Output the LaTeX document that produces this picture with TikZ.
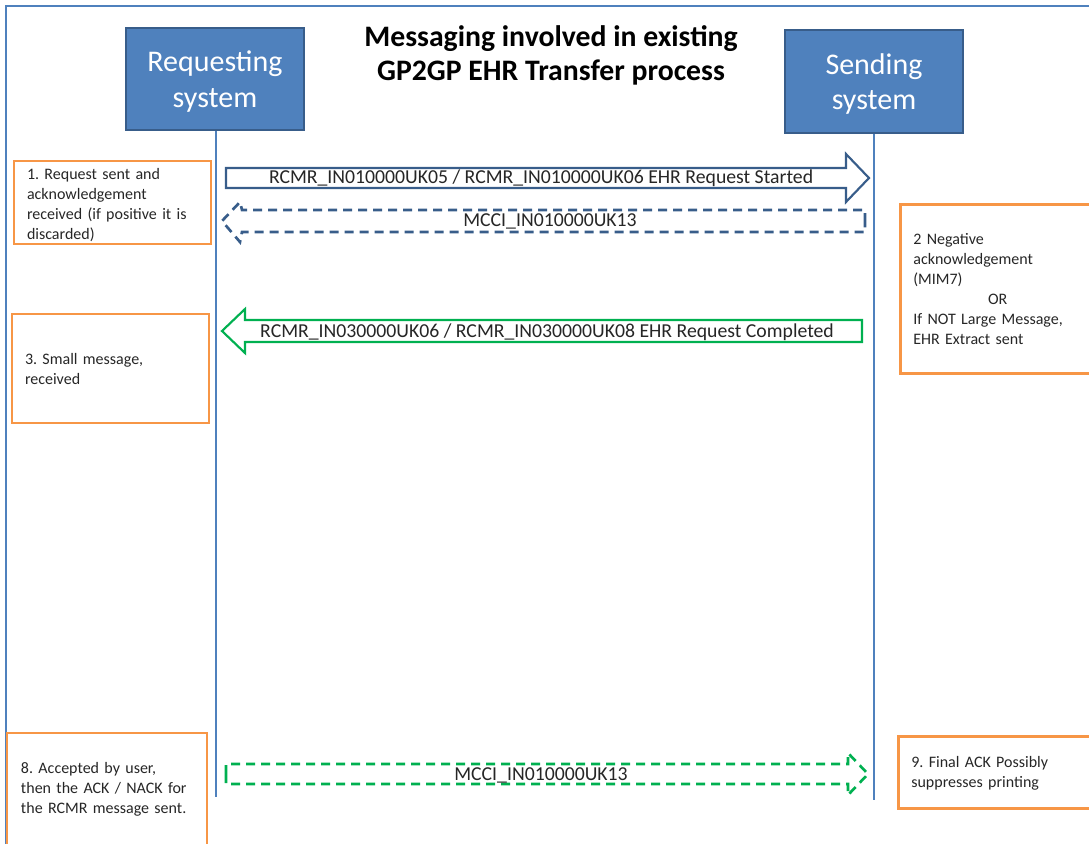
\documentclass[tikz,border=0pt]{standalone}
\usepackage{fontspec}
\setmainfont{Carlito}
\frenchspacing
\definecolor{frameblue}{RGB}{79,129,189}
\definecolor{boxblue}{RGB}{79,129,189}
\definecolor{boxedge}{RGB}{56,93,138}
\definecolor{arrowblue}{RGB}{56,93,138}
\definecolor{arrowgreen}{RGB}{0,176,80}
\definecolor{noteorange}{RGB}{247,150,70}
\definecolor{ink}{RGB}{38,38,38}
\begin{document}
\begin{tikzpicture}[x=0.75pt,y=-0.75pt,
  frame/.style={draw=frameblue,line width=1.5pt},
  sysbox/.style={rectangle,fill=boxblue,draw=boxedge,line width=1.5pt,text=white,
    align=center,font=\fontsize{22.5}{26.5}\selectfont,text depth=0pt,
    minimum width=133.5pt,minimum height=77pt,inner sep=0pt},
  lifeline/.style={draw=frameblue,line width=1.6pt},
  note/.style={rectangle,draw=noteorange,line width=2pt,align=left,text=ink,
    font=\fontsize{12}{15}\selectfont,inner xsep=9.75pt,inner ysep=0pt,
    text width=128.25pt},
  msglabel/.style={text=ink,font=\fontsize{14.8}{16}\selectfont,inner sep=0pt},
  solidblock/.style={line width=1.6pt,line join=miter,fill=white},
  dashblock/.style={line width=2pt,dash pattern=on 6.75pt off 4.5pt,line join=miter},
  title/.style={font=\bfseries\fontsize{22.3}{25.5}\selectfont,align=center,text=black}]

\useasboundingbox (0,0) rectangle (1089,843);
\clip (0,0) rectangle (1089,843);

% outer frame
\draw[frame] (6,860) -- (6,6) -- (1100,6);

% title
\node[title] (heading) at (551,55) {Messaging involved in existing\\GP2GP EHR Transfer process};

% the two systems and their lifelines
\node[sysbox] (req) at (215,79) {Requesting\\system};
\node[sysbox] (snd) at (874,81.5) {Sending\\system};
\coordinate (reqend) at (216,797);
\coordinate (sndend) at (874,800);
\draw[lifeline] (req.south -| reqend) -- (reqend);
\draw[lifeline] (snd.south) -- (sndend);

% notes
\node[note,minimum height=62.25pt,text height=12pt] (n1) at (112.5,202.5)
  {1. Request sent and\\acknowledgement\\received (if positive it is\\discarded)};
\node[note,minimum height=126.75pt,anchor=north west] (n2) at (899,203)
  {2 Negative\\acknowledgement\\(MIM7)\\\hspace*{56pt}OR\\If NOT Large Message,\\EHR Extract sent};
\node[note,minimum height=81.75pt] (n3) at (110.5,368.5)
  {3. Small message,\\received};
\node[note,minimum height=84pt,text width=129pt,inner xsep=10.5pt] (n8) at (107,789)
  {8. Accepted by user,\\then the ACK / NACK for\\the RCMR message sent.};
\node[note,minimum height=54pt,anchor=north west,text height=10.5pt] (n9) at (897,735)
  {9. Final ACK Possibly\\suppresses printing};

% message 1: request started (solid blue block arrow)
\draw[solidblock,draw=arrowblue]
  (226,168) -- (846,168) -- (846,154) -- (869,178) -- (846,202) -- (846,188) -- (226,188) -- cycle;
\node[msglabel] (m1) at (541,178) {RCMR\_IN010000UK05 / RCMR\_IN010000UK06 EHR Request Started};

% message 2: acknowledgement (dashed blue block arrow)
\draw[dashblock,draw=arrowblue]
  (865,222) -- (865,210) -- (242,210) -- (240,202) -- (222,221) -- (240,242) -- (242,232) -- (865,232) -- (865,222);
\node[msglabel] (m2) at (550,221) {MCCI\_IN010000UK13};

% message 3: request completed (solid green block arrow)
\draw[solidblock,draw=arrowgreen]
  (862,320) -- (245,320) -- (245,309) -- (222,331) -- (245,353) -- (245,342) -- (862,342) -- cycle;
\node[msglabel] (m3) at (547,332) {RCMR\_IN030000UK06 / RCMR\_IN030000UK08 EHR Request Completed};

% message 8: final acknowledgement (dashed green block arrow)
\draw[dashblock,draw=arrowgreen]
  (226,774) -- (226,764) -- (848,764) -- (848,753) -- (868,774) -- (848,795) -- (848,784) -- (226,784) -- (226,774);
\node[msglabel] (m4) at (541,775) {MCCI\_IN010000UK13};

\end{tikzpicture}
\end{document}
